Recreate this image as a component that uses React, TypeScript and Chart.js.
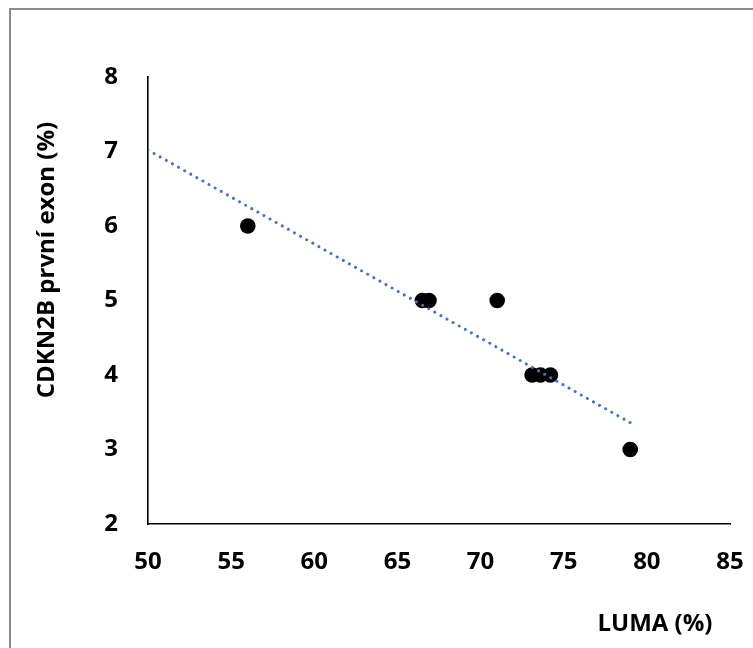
import React, { useEffect, useRef } from "react";
import { Chart, registerables } from "chart.js";

Chart.register(...registerables);

const lumaValues = [56.0, 66.5, 66.9, 71.0, 73.1, 73.6, 74.2, 79.0];
const cdkn2bValues = [6, 5, 5, 5, 4, 4, 4, 3];
const trendX = [50, 79.0];
const trendY = [7.02, 3.36];
const xTitle = "LUMA (%)";
const yTitle = "CDKN2B první exon (%)";
const xTicks = { min: 50, max: 85, step: 5 };
const yTicks = { min: 2, max: 8, step: 1 };

const FONT = "'Open Sans', sans-serif";

export default function App() {
  const ref = useRef<HTMLCanvasElement | null>(null);

  useEffect(() => {
    document.body.style.margin = "0";
    document.body.style.overflow = "hidden";
    const canvas = ref.current;
    if (!canvas) return;

    const titlesPlugin = {
      id: "titles",
      afterDraw(chart: any) {
        const ctx = chart.ctx;
        ctx.save();
        ctx.fillStyle = "#000";
        ctx.font = `bold 24px ${FONT}`;
        ctx.textAlign = "center";
        ctx.textBaseline = "middle";
        ctx.fillText(xTitle, 655, 624);
        ctx.translate(47, 260);
        ctx.rotate(-Math.PI / 2);
        ctx.fillText(yTitle, 0, 0);
        ctx.restore();
      },
    };

    const chart = new Chart(canvas, {
      type: "scatter",
      data: {
        datasets: [
          {
            type: "line",
            label: "trend",
            data: trendX.map((x, i) => ({ x, y: trendY[i] })),
            borderColor: "#4472C4",
            borderWidth: 3,
            borderDash: [0.01, 7],
            borderCapStyle: "round",
            pointRadius: 0,
            fill: false,
            order: 0,
          } as any,
          {
            label: "data",
            data: lumaValues.map((x, i) => ({ x, y: cdkn2bValues[i] })),
            backgroundColor: "#000",
            borderWidth: 0,
            pointRadius: 7.8,
            order: 1,
          },
        ],
      },
      options: {
        responsive: false,
        animation: false,
        layout: { padding: { left: 0, top: 77, right: 23, bottom: 0 } },
        plugins: {
          legend: { display: false },
          tooltip: { enabled: false },
        },
        scales: {
          x: {
            type: "linear",
            min: xTicks.min,
            max: xTicks.max,
            grid: { display: false, drawTicks: false },
            border: { display: true, color: "#000", width: 1.6 },
            ticks: {
              stepSize: xTicks.step,
              color: "#000",
              padding: 24,
              font: { family: FONT, size: 24, weight: "bold" },
              maxRotation: 0,
            },
            afterFit(scale: any) {
              scale.height = 124;
              scale.paddingLeft = 0;
              scale.paddingRight = 0;
            },
          },
          y: {
            type: "linear",
            min: yTicks.min,
            max: yTicks.max,
            grid: { display: false, drawTicks: false },
            border: { display: true, color: "#000", width: 1.6 },
            ticks: {
              stepSize: yTicks.step,
              color: "#000",
              padding: 30,
              font: { family: FONT, size: 24, weight: "bold" },
            },
            afterFit(scale: any) {
              scale.width = 148;
              scale.paddingTop = 0;
              scale.paddingBottom = 0;
            },
          },
        },
      },
      plugins: [titlesPlugin],
    });

    return () => chart.destroy();
  }, []);

  return (
    <div style={{ position: "fixed", left: 0, top: 0, width: 753, height: 648, overflow: "hidden", background: "#fff" }}>
      <div
        style={{
          position: "absolute",
          left: 9,
          top: 8,
          width: 800,
          height: 700,
          border: "2px solid #8c8c8c",
        }}
      />
      <canvas ref={ref} width={753} height={648} style={{ position: "absolute", left: 0, top: 0 }} />
    </div>
  );
}
